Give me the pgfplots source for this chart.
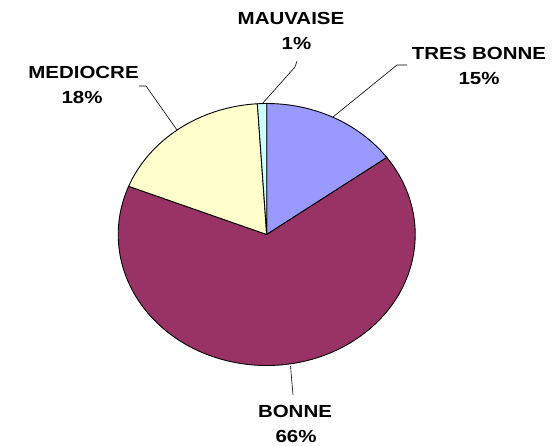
\documentclass[border=0pt]{standalone}
\usepackage{pgfplots}
\pgfplotsset{compat=1.18}
\usepackage{pgfplotstable}
\usepackage{fontspec}
\setmainfont{Liberation Sans}

\definecolor{tresbonne}{HTML}{9999FF}
\definecolor{bonne}{HTML}{993366}
\definecolor{mediocre}{HTML}{FFFFCC}
\definecolor{mauvaise}{HTML}{CCFFFF}

% share of answers, clockwise from 12 o'clock
\pgfplotstableread{
value colour
15 tresbonne
66 bonne
18 mediocre
1 mauvaise
}\piedata

% pie centre and radii (the chart is stretched, so it is an ellipse)
\newcommand\cx{266.7}
\newcommand\cy{210.5}
\newcommand\rx{148.5}
\newcommand\ry{131}

\begin{document}
\begin{tikzpicture}[
  lbl/.style={font=\fontsize{17.5bp}{21bp}\selectfont\bfseries, xscale=1.17, inner sep=0pt, anchor=base},
]
\begin{axis}[
  scale only axis, width=560bp, height=445bp,
  xmin=0, xmax=560, ymin=0, ymax=445,
  enlargelimits=false, hide axis, clip=false,
]
\path (rel axis cs:0,0) rectangle (rel axis cs:1,1);
\xdef\angstart{90}
\pgfplotstablegetrowsof{\piedata}
\pgfmathtruncatemacro\lastrow{\pgfplotsretval-1}
\foreach \i in {0,...,\lastrow} {
  \pgfplotstablegetelem{\i}{value}\of\piedata
  \let\val\pgfplotsretval
  \pgfplotstablegetelem{\i}{colour}\of\piedata
  \let\col\pgfplotsretval
  \pgfmathsetmacro\angend{\angstart-3.6*\val}
  \edef\slice{\noexpand\filldraw[fill=\col, draw=black, line width=0.9bp, line join=round]
    (axis cs:\cx,\cy) -- ++(\angstart:\rx bp and \ry bp)
    arc[start angle=\angstart, end angle=\angend, x radius=\rx bp, y radius=\ry bp] -- cycle;}
  \slice
  \xdef\angstart{\angend}
}
% leader lines
\draw[line width=0.6bp] (axis cs:297,384) -- (axis cs:295,378) -- (axis cs:262,341);
\draw[line width=0.6bp] (axis cs:407,380) -- (axis cs:397,380) -- (axis cs:333,328);
\draw[line width=0.6bp] (axis cs:139,359) -- (axis cs:146,359) -- (axis cs:177,315);
\draw[line width=0.6bp] (axis cs:290.5,79) -- (axis cs:293,50);
% labels
\node[lbl] at (axis cs:291,420) {MAUVAISE};
\node[lbl] at (axis cs:296.5,395) {1\%};
\node[lbl] at (axis cs:479,385) {TRES BONNE};
\node[lbl] at (axis cs:479,360) {15\%};
\node[lbl] at (axis cs:83.5,366) {MEDIOCRE};
\node[lbl] at (axis cs:82,341) {18\%};
\node[lbl] at (axis cs:295,28) {BONNE};
\node[lbl] at (axis cs:296,2.5) {66\%};
\end{axis}
\end{tikzpicture}
\end{document}
